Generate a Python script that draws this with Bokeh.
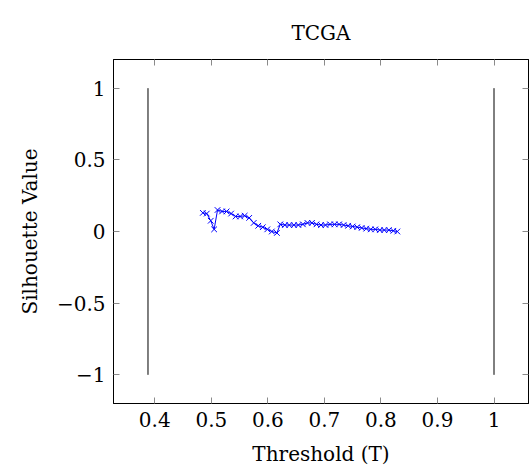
from bokeh.plotting import figure
from bokeh.models import LinearAxis, FixedTicker, Range1d
from bokeh.embed import file_html
from bokeh.resources import INLINE

thresholds = [0.485, 0.492, 0.499, 0.505, 0.511, 0.519, 0.527, 0.535, 0.543, 0.551,
              0.559, 0.567, 0.575, 0.583, 0.591, 0.599, 0.607, 0.616, 0.622, 0.630,
              0.638, 0.646, 0.654, 0.662, 0.670, 0.678, 0.686, 0.694, 0.702, 0.710,
              0.718, 0.726, 0.734, 0.742, 0.750, 0.758, 0.766, 0.774, 0.782, 0.790,
              0.798, 0.806, 0.814, 0.822, 0.829]
silhouette = [0.13, 0.125, 0.075, 0.015, 0.15, 0.14, 0.14, 0.125, 0.105, 0.105,
              0.11, 0.095, 0.06, 0.04, 0.03, 0.015, 0.0, -0.01, 0.05, 0.045,
              0.045, 0.045, 0.045, 0.05, 0.06, 0.06, 0.05, 0.045, 0.045, 0.05,
              0.05, 0.05, 0.045, 0.04, 0.035, 0.03, 0.025, 0.02, 0.015, 0.015,
              0.01, 0.01, 0.01, 0.005, 0.0]
bound_x = [0.388, 1.0]
bound_lo = [-1.0, -1.0]
bound_hi = [1.0, 1.0]
x_ticks = [0.4, 0.5, 0.6, 0.7, 0.8, 0.9, 1.0]
x_tick_labels = ["0.4", "0.5", "0.6", "0.7", "0.8", "0.9", "1"]
y_ticks = [-1.0, -0.5, 0.0, 0.5, 1.0]
y_tick_labels = ["\u22121", "\u22120.5", "0", "0.5", "1"]

FONT = "DejaVu Serif"
FS = "20px"

p = figure(width=529, height=475, output_backend="svg", toolbar_location=None,
           x_range=Range1d(0.327, 1.061), y_range=Range1d(-1.2, 1.2),
           frame_width=415, frame_height=344,
           min_border_left=113, min_border_right=1, min_border_top=59, min_border_bottom=72,
           x_axis_location=None, y_axis_location=None)
p.title.text = "TCGA"
p.title.align = "center"
p.title.text_font = FONT
p.title.text_font_size = FS
p.title.text_font_style = "normal"
p.title.text_color = "black"
p.title.standoff = 29
p.grid.visible = False
p.outline_line_color = "black"
p.outline_line_width = 1
p.background_fill_color = "white"
p.border_fill_color = "white"

def mk_axis(labels_on, ticks, labels, label=None):
    ax = LinearAxis(ticker=FixedTicker(ticks=ticks))
    ax.major_label_overrides = {t: l for t, l in zip(ticks, labels)}
    ax.major_tick_in = 6
    ax.major_tick_out = 0
    ax.minor_tick_line_color = None
    ax.major_tick_line_color = "#8a8a8a"
    ax.axis_line_color = "black"
    ax.major_label_text_font = FONT
    ax.major_label_text_font_size = FS if labels_on else "0px"
    ax.major_label_text_color = "black" if labels_on else None
    ax.major_label_standoff = 8 if labels_on else 0
    if label:
        ax.axis_label = label
        ax.axis_label_text_font = FONT
        ax.axis_label_text_font_size = FS
        ax.axis_label_text_font_style = "normal"
        ax.axis_label_text_color = "black"
        ax.axis_label_standoff = 12
    return ax

p.add_layout(mk_axis(True, x_ticks, x_tick_labels, "Threshold (T)"), "below")
p.add_layout(mk_axis(True, y_ticks, y_tick_labels, "Silhouette Value"), "left")
p.add_layout(mk_axis(False, x_ticks, x_tick_labels), "above")
p.add_layout(mk_axis(False, y_ticks, y_tick_labels), "right")

p.segment(x0=bound_x, y0=bound_lo, x1=bound_x, y1=bound_hi, line_color="black", line_width=1)
p.line(thresholds, silhouette, line_color="blue", line_width=1)
p.scatter(thresholds, silhouette, marker="x", size=8, line_color="blue", line_width=1)

open("out.html", "w").write(file_html(p, INLINE))
